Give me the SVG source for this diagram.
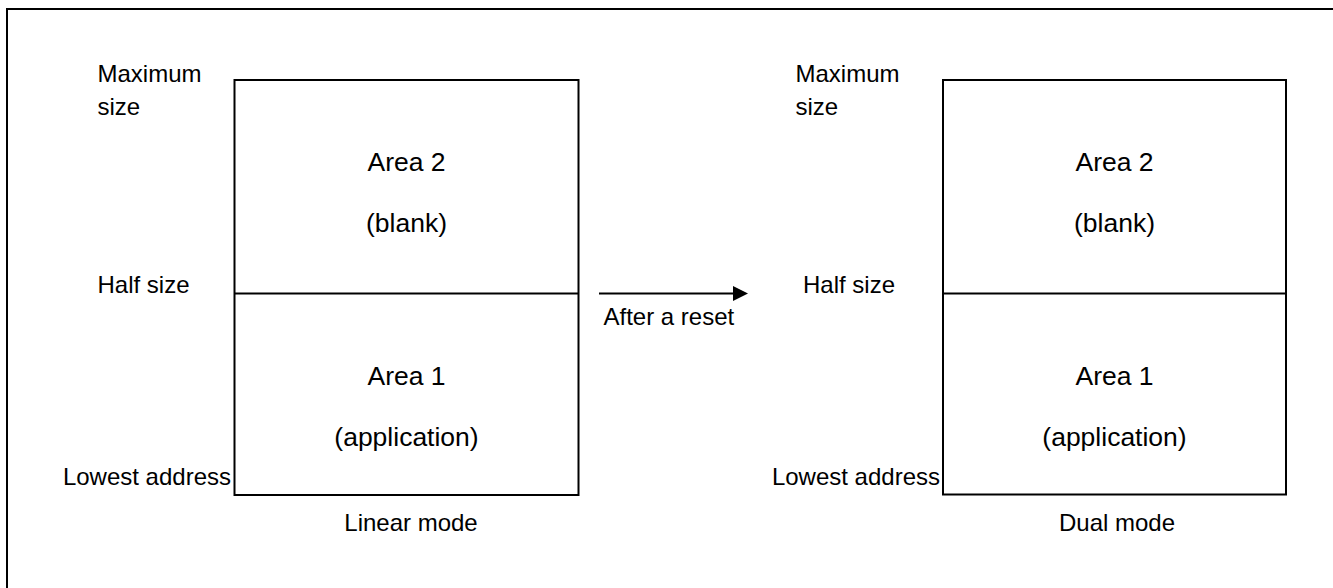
<svg xmlns="http://www.w3.org/2000/svg" width="1333" height="588" viewBox="0 0 1333 588">
<style>
.box{fill:#fff;stroke:#000;stroke-width:2}
.ln{stroke:#000;stroke-width:2;fill:none}
.lbl{font-family:"Liberation Sans",Arial,sans-serif;font-size:24px;fill:#000}
.in{font-family:"Liberation Sans",Arial,sans-serif;font-size:26.5px;fill:#000;text-anchor:middle}
</style>
<defs>
<marker id="ah" markerWidth="15" markerHeight="15" refX="0" refY="7.5" orient="auto" markerUnits="userSpaceOnUse">
<path d="M0,0 L15,7.5 L0,15 Z" fill="#000"/>
</marker>
</defs>
<rect x="7" y="9" width="1340" height="590" fill="#fff" stroke="#000" stroke-width="2"/>
<g id="linear">
<rect class="box" x="234.5" y="80" width="344" height="415"/>
<line class="ln" x1="234.5" y1="293.5" x2="578.5" y2="293.5"/>
<text class="in" x="406.5" y="171">Area 2</text>
<text class="in" x="406.5" y="232">(blank)</text>
<text class="in" x="406.5" y="385">Area 1</text>
<text class="in" x="406.5" y="446">(application)</text>
<text class="lbl" x="97.5" y="82">Maximum</text>
<text class="lbl" x="97.5" y="115">size</text>
<text class="lbl" x="97.5" y="293">Half size</text>
<text class="lbl" x="231" y="485" text-anchor="end">Lowest address</text>
<text class="lbl" x="411" y="531" text-anchor="middle">Linear mode</text>
</g>
<g id="dual">
<rect class="box" x="943" y="80" width="343" height="414.5"/>
<line class="ln" x1="943" y1="293.5" x2="1286" y2="293.5"/>
<text class="in" x="1114.5" y="171">Area 2</text>
<text class="in" x="1114.5" y="232">(blank)</text>
<text class="in" x="1114.5" y="385">Area 1</text>
<text class="in" x="1114.5" y="446">(application)</text>
<text class="lbl" x="795.5" y="82">Maximum</text>
<text class="lbl" x="795.5" y="115">size</text>
<text class="lbl" x="803" y="293">Half size</text>
<text class="lbl" x="940" y="485" text-anchor="end">Lowest address</text>
<text class="lbl" x="1117" y="531" text-anchor="middle">Dual mode</text>
</g>
<g id="connectors">
<line class="ln" x1="599" y1="293.5" x2="733" y2="293.5" marker-end="url(#ah)"/>
<text class="lbl" x="603.5" y="325">After a reset</text>
</g>
</svg>
